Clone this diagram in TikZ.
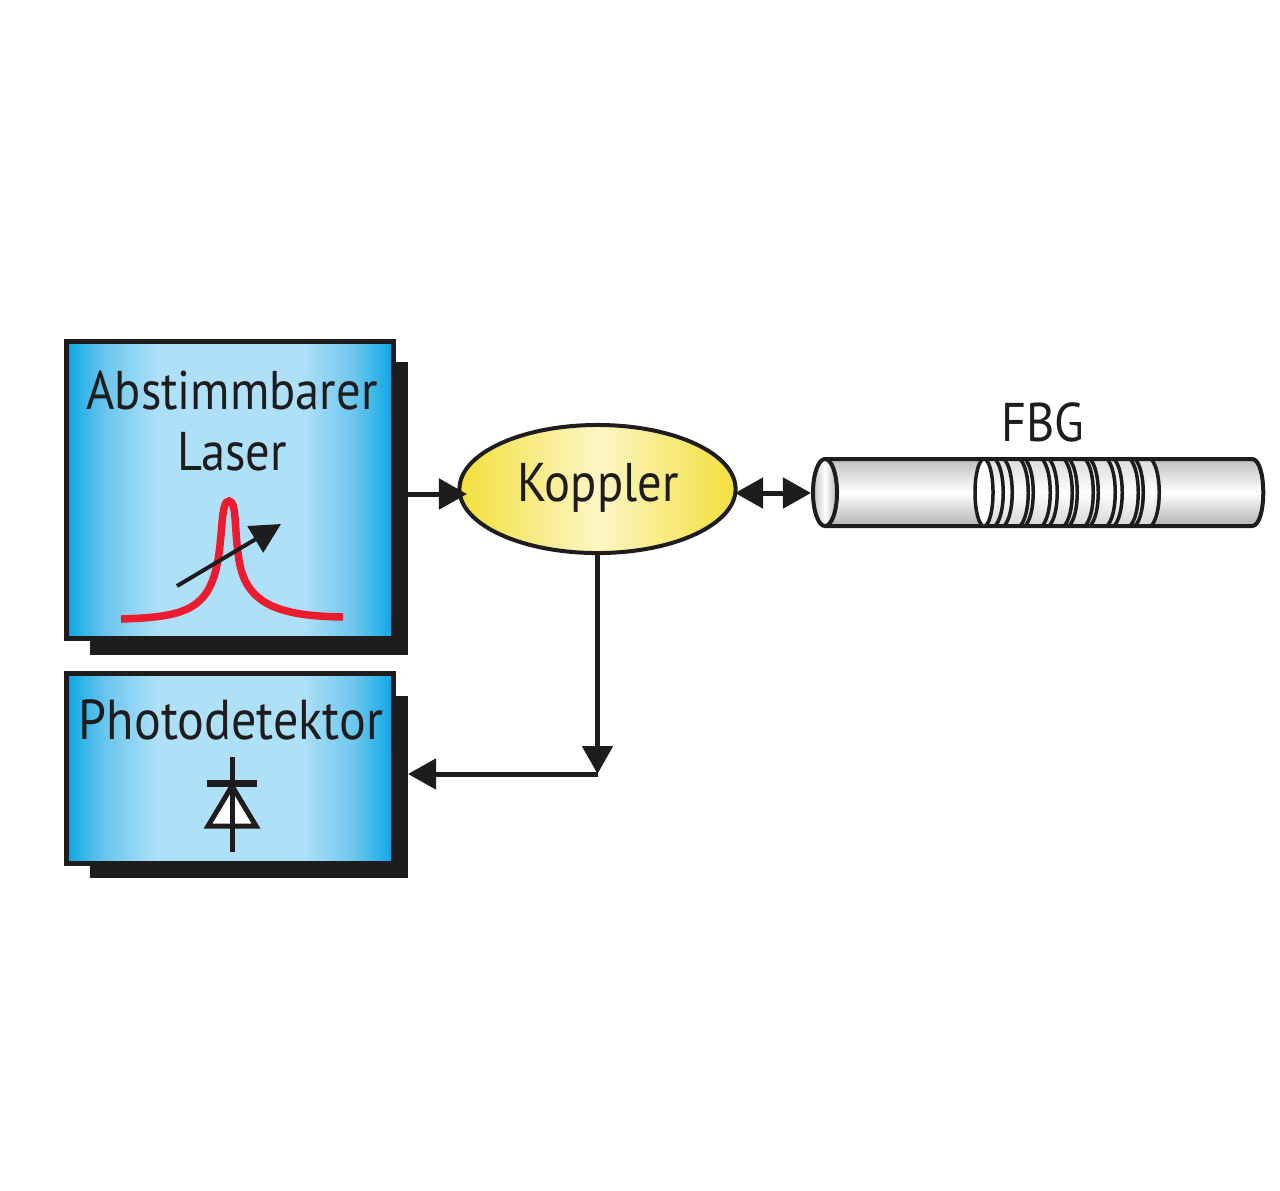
\documentclass[tikz,border=0pt]{standalone}
\usepackage{fontspec}
\setmainfont{PT Sans}[FakeStretch=0.89]
\usepackage{tikz}
\usetikzlibrary{arrows.meta,positioning,shapes.geometric}
\definecolor{boxblue}{HTML}{0BA6E3}
\definecolor{boxmid}{HTML}{6CC6EE}
\definecolor{boxlight}{HTML}{AEE0F7}
\definecolor{koppleryellow}{HTML}{F3DF3C}
\definecolor{kopplerlight}{HTML}{FBF6C4}
\definecolor{inkblack}{HTML}{1E1C1D}
\definecolor{peakred}{HTML}{EC1C2E}
\pgfdeclarehorizontalshading{boxshade}{100bp}{
  color(0bp)=(boxblue); color(25bp)=(boxblue); color(31bp)=(boxmid); color(39bp)=(boxlight);
  color(61bp)=(boxlight); color(69bp)=(boxmid); color(75bp)=(boxblue); color(100bp)=(boxblue)}
\pgfdeclarehorizontalshading{kopplershade}{100bp}{
  color(0bp)=(koppleryellow); color(25bp)=(koppleryellow); color(50bp)=(kopplerlight);
  color(75bp)=(koppleryellow); color(100bp)=(koppleryellow)}
\pgfdeclareverticalshading{fibershade}{100bp}{
  color(0bp)=(black!30); color(25bp)=(black!30); color(50bp)=(white);
  color(75bp)=(black!25); color(100bp)=(black!25)}
\begin{document}
\begin{tikzpicture}[
    x=0.01cm, y=-0.01cm,
    device/.style={draw=inkblack, line width=0.055cm, shading=boxshade, minimum width=3.27cm, inner sep=0pt},
    backing/.style={fill=inkblack, minimum width=3.18cm, inner sep=0pt},
    label/.style={font=\fontsize{15.5}{15.5}\selectfont, text=inkblack, inner sep=0pt},
    conn/.style={draw=inkblack, line width=0.05cm, -{Triangle[length=0.28cm,width=0.3cm]}},
    slice/.style={draw=inkblack, line width=0.035cm}
]
    \useasboundingbox (0,0) rectangle (1280,1190);
    % boxes
    \node[backing, minimum height=2.93cm] (lasershadow) at (249,508.5) {};
    \node[device, minimum height=2.97cm] (laser) at (230,490) {};
    \node[backing, minimum height=1.82cm] (detectorshadow) at (249,787) {};
    \node[device, minimum height=1.90cm] (detector) at (230,768.5) {};
    \node[label] (lasertitle) at (232,390) {Abstimmbarer};
    \node[label] (lasertitletwo) at (232,452) {Laser};
    \node[label, font=\fontsize{16}{16}\selectfont] (detectortitle) at (231,720) {Photodetektor};
    % koppler
    \node[ellipse, draw=inkblack, line width=0.04cm, shading=kopplershade, minimum width=2.76cm, minimum height=1.28cm, inner sep=0pt] (koppler) at (597.5,489) {};
    \node[label] (kopplertext) at (598,488) {Koppler};
    % laser peak
    \draw[peakred, line width=0.075cm] (121,619) .. controls (185,617) and (209,610) .. (218,560)
        .. controls (223,530) and (221,501) .. (229,501)
        .. controls (237,501) and (234,530) .. (239,560)
        .. controls (246,605) and (280,616) .. (343,617);
    \draw[inkblack, line width=0.04cm, -{Triangle[length=0.3cm,width=0.3cm]}] (177,586) -- (281,524);
    % diode
    \coordinate (diodetop) at (232,757);
    \coordinate (diodebottom) at (232,852);
    \draw[inkblack, line width=0.05cm] (diodetop) -- (diodebottom);
    \draw[inkblack, line width=0.07cm] (207,783) -- (257,783);
    \draw[inkblack, fill=white, line width=0.05cm] (232,786) -- (208,826) -- (256,826) -- cycle;
    \draw[inkblack, line width=0.05cm] (232,786) -- (232,826);
    % fiber
    \path[shading=fibershade] (825,459) -- (1252,459) .. controls (1267,459) and (1267,526) .. (1252,526) -- (825,526) -- cycle;
    \fill[white, fill opacity=0.45] (985,461) rectangle (1155,524);
    \draw[inkblack, line width=0.04cm] (825,459) -- (1252,459) .. controls (1267,459) and (1267,526) .. (1252,526) -- (825,526);
    \node[ellipse, draw=inkblack, shading=fibershade, shading angle=90, line width=0.04cm, minimum width=0.24cm, minimum height=0.67cm, inner sep=0pt] (fiberend) at (825,492.5) {};
    \node[ellipse, slice, fill=white, minimum width=0.18cm, minimum height=0.67cm, inner sep=0pt] (gratingstart) at (984,492.5) {};
    \foreach \px in {1003,1012,1028,1033,1050,1057,1072,1077,1093,1098,1115,1122,1138,1143,1159}
        \draw[slice] (\px-8,459) .. controls (\px+3,470) and (\px+3,515) .. (\px-8,526);
    \node[label] (fbg) at (1043,422) {FBG};
    % arrows
    \coordinate (laserout) at (408,494);
    \coordinate (kopplerin) at (467,494);
    \coordinate (kopplerout) at (735,493);
    \coordinate (detectorin) at (408,774);
    \coordinate (joint) at (koppler.south |- detectorin);
    \draw[conn] (laserout) -- (kopplerin);
    \draw[conn, {Triangle[length=0.28cm,width=0.3cm]}-{Triangle[length=0.28cm,width=0.3cm]}] (kopplerout) -- (kopplerout -| fiberend.west);
    \draw[conn] (koppler.south) -- (joint);
    \draw[conn] (joint) -- (detectorin);
\end{tikzpicture}
\end{document}
